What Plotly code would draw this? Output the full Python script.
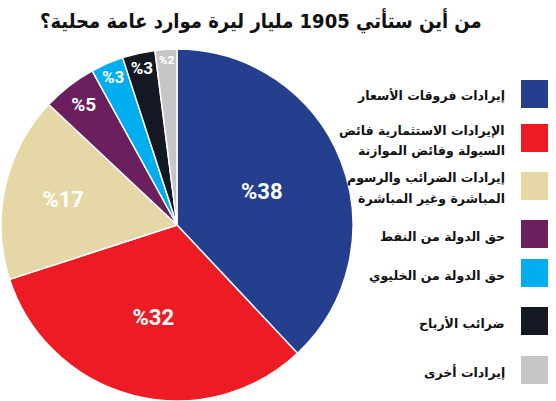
import plotly.graph_objects as go

# بيانات الموارد العامة المحلية
labels = [
    "إيرادات فروقات الأسعار",
    "الإيرادات الاستثمارية فائض<br>السيولة وفائض الموازنة",
    "إيرادات الضرائب والرسوم<br>المباشرة وغير المباشرة",
    "حق الدولة من النفط",
    "حق الدولة من الخليوي",
    "ضرائب الأرباح",
    "إيرادات أخرى",
]
values = [38, 32, 17, 5, 3, 3, 2]
colors = ["#233F8E", "#ED1C24", "#E5D8A6", "#6B1F5E", "#00AEEF", "#141822", "#C6C6C8"]
label_sizes = [22, 22, 22, 19, 17, 17, 17]

title = "من أين ستأتي 1905 مليار ليرة موارد عامة محلية؟"

W, H = 556, 401
FONT = "DejaVu Sans"
NUM_FONT = "Liberation Sans Narrow, Roboto, DejaVu Sans"

fig = go.Figure()
fig.add_trace(go.Pie(
    labels=labels,
    values=values,
    text=["<b>%" + str(v) + "</b>" for v in values],
    textinfo="text",
    textposition="inside",
    insidetextorientation="horizontal",
    textfont=dict(family=NUM_FONT, color="white", size=label_sizes),
    marker=dict(colors=colors, line=dict(color="white", width=1.5)),
    sort=False,
    direction="clockwise",
    rotation=0,
    showlegend=False,
    hoverinfo="label+percent",
    domain=dict(x=[0, 354 / W], y=[0, 1 - 49 / H]),
))

# وسيلة إيضاح يدوية (المربعات على اليمين)
legend_y = [94, 138, 186, 234, 273, 321, 370]
for lab, col, yc in zip(labels, colors, legend_y):
    fig.add_shape(
        type="rect", xref="paper", yref="paper",
        x0=521 / W, x1=548 / W,
        y0=1 - (yc + 14) / H, y1=1 - (yc - 14) / H,
        fillcolor=col, line=dict(width=0),
    )
    lines = lab.split("<br>")
    offs = [0] if len(lines) == 1 else [-10, 10]
    for line, off in zip(lines, offs):
        fig.add_annotation(
            x=507 / W, y=1 - (yc + 2 + off) / H, xref="paper", yref="paper",
            xanchor="right", yanchor="middle", align="right",
            text="<b>" + line + "</b>", showarrow=False,
            font=dict(family=FONT, size=12.5, color="#111111"),
        )

fig.add_annotation(
    x=261 / W, y=1 - 20 / H, xref="paper", yref="paper",
    xanchor="center", yanchor="middle",
    text="<b>" + title + "</b>", showarrow=False,
    font=dict(family="DejaVu Sans Condensed, DejaVu Sans", size=20, color="#111111"),
)

fig.update_layout(
    width=W, height=H,
    margin=dict(l=0, r=0, t=0, b=0),
    paper_bgcolor="white",
    plot_bgcolor="white",
)

fig.write_html(
    "out.html",
    config={"displayModeBar": False},
    post_script="document.body.style.margin='0';",
)
